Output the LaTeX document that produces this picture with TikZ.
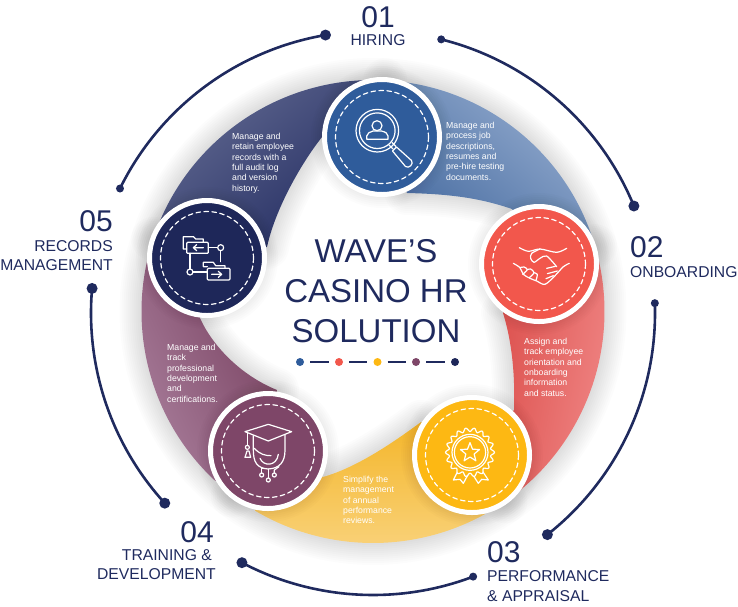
\documentclass[tikz,border=0pt]{standalone}
\usepackage{fontspec}
\setmainfont{Liberation Sans}
\definecolor{navy}{HTML}{1F2A5E}
\definecolor{cblue}{HTML}{2F5C9B}
\definecolor{cred}{HTML}{F2574C}
\definecolor{cgold}{HTML}{FDB813}
\definecolor{cpurple}{HTML}{7E4668}
\definecolor{cnavy}{HTML}{1E2759}
\definecolor{a1}{HTML}{A3B8D8}\definecolor{am}{HTML}{7C98C2}\definecolor{a2}{HTML}{456A9F}
\definecolor{b1}{HTML}{F89C9C}\definecolor{bm}{HTML}{F07F7F}\definecolor{b2}{HTML}{D53D39}
\definecolor{c1}{HTML}{FCE0A2}\definecolor{cm}{HTML}{F9CB5E}\definecolor{c2}{HTML}{F2AE14}
\definecolor{d1}{HTML}{B790AD}\definecolor{dm}{HTML}{A07593}\definecolor{d2}{HTML}{763E5D}
\definecolor{e1}{HTML}{666E95}\definecolor{em}{HTML}{464E7E}\definecolor{e2}{HTML}{1E275D}
\tikzset{
  disc/.style={circle,draw=white,line width=5,inner sep=0,minimum size=115},
  dashring/.style={draw=white,line width=1.2,dash pattern=on 4.6 off 3.4,line cap=round},
  icon/.style={draw=white,line width=1.2,line join=round,line cap=round},
  small/.style={text=white,inner sep=0,anchor=north west,align=left,font=\fontsize{8.7}{10.3}\selectfont},
  num/.style={text=navy,inner sep=0,font=\fontsize{30}{30}\selectfont},
  lab/.style={text=navy,inner sep=0,font=\fontsize{15.7}{19}\selectfont},
  ringarc/.style={draw=navy,line width=2.6},
  bigdot/.style={circle,fill=navy,inner sep=0,minimum size=11},
  tinydot/.style={circle,fill=navy,inner sep=0,minimum size=8},
  cdot/.style={circle,inner sep=0,minimum size=8},
  bandA/.style={insert path={(C1) -- ([shift={(O)}]-87:231.5) arc[start angle=-87,end angle=-16.4,radius=231.5] -- (C2) -- (512,209) .. controls (480,198) and (450,194) .. (407,193) -- cycle}},
  bandB/.style={insert path={(C2) -- ([shift={(O)}]-16.4:231.5) arc[start angle=-16.4,end angle=55.1,radius=231.5] -- (C3) -- (514,410) .. controls (515,380) and (513,345) .. (503,313) -- cycle}},
  bandC/.style={insert path={(C3) -- ([shift={(O)}]55.1:231.5) arc[start angle=55.1,end angle=127.3,radius=231.5] -- (C4) -- (323,477) .. controls (355,468) and (390,445) .. (421,422) -- cycle}},
  bandD/.style={insert path={(C4) -- ([shift={(O)}]127.3:231.5) arc[start angle=127.3,end angle=198.3,radius=231.5] -- (C5) -- (200,318) .. controls (212,345) and (240,375) .. (277,390) -- cycle}},
  bandE/.style={insert path={(C5) -- ([shift={(O)}]198.3:231.5) arc[start angle=198.3,end angle=273,radius=231.5] -- (C1) -- (322,137) .. controls (300,165) and (275,210) .. (267,247) -- cycle}},
}
\begin{document}
\begin{tikzpicture}[x=1pt,y=-1pt]
\useasboundingbox (0,0) rectangle (738,606);
\coordinate (O) at (373,311.5);
\coordinate (R) at (373,313);
\coordinate (C1) at (382,137);
\coordinate (C2) at (539,264);
\coordinate (C3) at (472,455);
\coordinate (C4) at (268,451);
\coordinate (C5) at (207,258);
% soft shadows of the bands
\foreach \w in {4,8,...,44}{
  \draw[black,opacity=.012,line width=\w,line join=round,bandA];
  \draw[black,opacity=.012,line width=\w,line join=round,bandB];
  \draw[black,opacity=.012,line width=\w,line join=round,bandC];
  \draw[black,opacity=.012,line width=\w,line join=round,bandD];
  \draw[black,opacity=.012,line width=\w,line join=round,bandE];
}
% bands: clipped square shadings keep the gradient direction true
\begin{scope}\clip[bandA];
  \shade[left color=a1,middle color=am,right color=a2,shading angle=-40] (385,40) rectangle (605,260);
\end{scope}
\begin{scope}\clip[bandB];
  \shade[left color=b1,middle color=bm,right color=b2,shading angle=-100] (440,260) rectangle (670,490);
\end{scope}
\begin{scope}\clip[bandC];
  \shade[left color=c1,middle color=cm,right color=c2,shading angle=180] (255,385) rectangle (485,615);
\end{scope}
\begin{scope}\clip[bandD];
  \shade[left color=d1,middle color=dm,right color=d2,shading angle=115] (65,250) rectangle (295,480);
\end{scope}
\begin{scope}\clip[bandE];
  \shade[left color=e1,middle color=em,right color=e2,shading angle=40] (150,50) rectangle (380,280);
\end{scope}
% circle shadows
\foreach \p in {C1,C2,C3,C4,C5}{
  \foreach \r in {61,63,...,71}{
    \fill[black,opacity=.012] (\p) circle[radius=\r];
  }
}
% discs
\node[disc,fill=cblue] (hiringdisc) at (C1) {};
\node[disc,fill=cred] (onboarddisc) at (C2) {};
\node[disc,fill=cgold] (perfdisc) at (C3) {};
\node[disc,fill=cpurple] (traindisc) at (C4) {};
\node[disc,fill=cnavy] (recorddisc) at (C5) {};
\foreach \p in {C1,C2,C3,C4,C5}{
  \draw[dashring] (\p) circle[radius=46.5];
}
% outer arcs
\begin{scope}[shift={(R)}]
  \draw[ringarc] (-76:282) arc[start angle=-76,end angle=-22.3,radius=282];
  \draw[ringarc] (-2:282) arc[start angle=-2,end angle=51.8,radius=282];
  \draw[ringarc] (69.2:282) arc[start angle=69.2,end angle=117.7,radius=282];
  \draw[ringarc] (137.6:282) arc[start angle=137.6,end angle=185,radius=282];
  \draw[ringarc] (206.2:282) arc[start angle=206.2,end angle=260.3,radius=282];
  \node[tinydot] (e1a) at (-76:282) {};
  \node[bigdot] (e1b) at (-22.3:282) {};
  \node[tinydot] (e2a) at (-2:282) {};
  \node[bigdot] (e2b) at (51.8:282) {};
  \node[tinydot] (e3a) at (69.2:282) {};
  \node[bigdot] (e3b) at (117.7:282) {};
  \node[bigdot] (e4a) at (137.6:282) {};
  \node[bigdot] (e4b) at (185:282) {};
  \node[tinydot] (e5a) at (206.2:282) {};
  \node[bigdot] (e5b) at (260.3:282) {};
\end{scope}
% centre title
\node[text=navy,align=center,inner sep=0,font=\fontsize{33}{40}\selectfont] (title) at (376,291) {WAVE’S\\CASINO HR\\SOLUTION};
\node[cdot,fill=cblue] (d1) at (300,362) {};
\node[cdot,fill=cred] (d2) at (339,362) {};
\node[cdot,fill=cgold] (d3) at (377.5,362) {};
\node[cdot,fill=cpurple] (d4) at (416,362) {};
\node[cdot,fill=cnavy] (d5) at (455,362) {};
\foreach \a/\b in {d1/d2,d2/d3,d3/d4,d4/d5}{
  \draw[navy,line width=1.4,shorten <=6,shorten >=6] (\a) -- (\b);
}
% band text
\node[small] (t1) at (446,122) {Manage and\\process job\\descriptions,\\resumes and\\pre-hire testing\\documents.};
\node[small] (t2) at (524,338) {Assign and\\track employee\\orientation and\\onboarding\\information\\and status.};
\node[small] (t3) at (343,476) {Simplify the\\management\\of annual\\performance\\reviews.};
\node[small] (t4) at (167,344) {Manage and\\track\\professional\\development\\and\\certifications.};
\node[small] (t5) at (232,133) {Manage and\\retain employee\\records with a\\full audit log\\and version\\history.};
% outer labels
\node[num,anchor=base] (n1) at (378,27) {01};
\node[lab,anchor=base] (l1) at (378,45) {HIRING};
\node[num,anchor=base west] (n2) at (630,257) {02};
\node[lab,anchor=base west] (l2) at (630,277) {ONBOARDING};
\node[num,anchor=base west] (n3) at (487,562) {03};
\node[lab,anchor=base west] (l3a) at (487,581) {PERFORMANCE};
\node[lab,anchor=base west] (l3b) at (487,601) {\& APPRAISAL};
\node[num,anchor=base east] (n4) at (214,542) {04};
\node[lab,anchor=base east] (l4a) at (212,560) {TRAINING \&};
\node[lab,anchor=base east] (l4b) at (216,579) {DEVELOPMENT};
\node[num,anchor=base east] (n5) at (113,231) {05};
\node[lab,anchor=base east] (l5a) at (113,251.7) {RECORDS};
\node[lab,anchor=base east] (l5b) at (113,270.7) {MANAGEMENT};
% icon: magnifier
\begin{scope}[icon]
  \draw (377.3,130.7) circle[radius=21.3];
  \draw (377.3,130.7) circle[radius=17.8];
  \draw (377,125.7) circle[radius=5];
  \draw (366.7,139.3) -- (366.7,136) .. controls (367,133) and (370,132) .. (373,131) -- (381.5,131) .. controls (385,132) and (388,133) .. (388,136) -- (388,139.3) -- cycle;
  \draw (389,145) -- (393,149);
  \draw (392,142.5) -- (396,146.5);
  \draw (392.5,151) -- (396.5,147) -- (411.5,160.5) .. controls (414,164) and (409,169) .. (405.5,166.5) -- cycle;
\end{scope}
% icon: handshake
\begin{scope}[icon,shift={(500,225)},x=.3333pt,y=-.3333pt]
  \draw plot[smooth] coordinates {(58,68) (85,79) (120,72) (170,82) (200,70)};
  \draw plot[smooth] coordinates {(120,72) (95,85) (92,100) (102,112) (120,100) (140,93) (170,125)};
  \draw plot[smooth] coordinates {(40,115) (60,128) (70,148) (90,160) (110,168) (135,178) (165,152) (190,125) (208,115)};
  \draw plot[smooth] coordinates {(60,128) (72,126) (82,134) (68,148)};
  \draw plot[smooth] coordinates {(82,134) (92,132) (102,143) (88,158)};
  \draw plot[smooth] coordinates {(102,143) (112,148) (108,166)};
  \draw (140,130) -- (166,124);
  \draw (142,146) -- (172,138);
  \draw (138,161) -- (160,152);
\end{scope}
% icon: folders
\begin{scope}[icon,shift={(175,225)},x=.3333pt,y=-.3333pt]
  \draw (35,72) -- (25,72) -- (25,35) -- (55,35) -- (62,42) -- (85,42) -- (85,52);
  \draw[rounded corners=1] (35,85) -- (35,52) -- (100,52) -- (100,85) -- cycle;
  \draw (85,68) -- (55,68) (65,59) -- (55,68) -- (65,77);
  \draw (100,68) -- (128,68);
  \draw (137,68) circle[radius=9];
  \draw (137,77) -- (137,110);
  \draw (45,85) -- (45,132);
  \draw (45,141) circle[radius=9];
  \draw (54,141) -- (97,141);
  \draw (97,125) -- (85,125) -- (85,112) -- (115,112) -- (122,122) -- (150,122) -- (150,130);
  \draw[rounded corners=1] (97,165) -- (97,130) -- (165,130) -- (165,165) -- cycle;
  \draw (110,148) -- (140,148) (130,139) -- (140,148) -- (130,157);
\end{scope}
% icon: graduation cap
\begin{scope}[icon,shift={(235,415)},x=.3333pt,y=-.3333pt]
  \draw (30,50) -- (100,28) -- (170,50) -- (100,78) -- cycle;
  \draw (37,53) -- (37,91);
  \draw (37,97) circle[radius=6];
  \draw (30,127) -- (36,108) -- (42,108) -- (47,127) -- cycle;
  \draw (55,62) -- (55,105) .. controls (55,140) and (65,160) .. (100,162) .. controls (135,160) and (150,140) .. (150,105) -- (150,60);
  \draw (58,100) .. controls (75,118) and (90,122) .. (108,122);
  \draw (75,130) .. controls (85,155) and (125,155) .. (130,118);
  \draw (100,162) -- (100,188);
  \draw (100,195) circle[radius=6];
  \draw (90,160) -- (80,160) -- (80,174);
  \draw (80,180) circle[radius=6];
  \draw (132,155) -- (118,165) -- (118,174);
  \draw (118,180) circle[radius=6];
\end{scope}
% icon: rosette
\begin{scope}[icon,shift={(435,420)},x=.3333pt,y=-.3333pt]
  \draw (70,150) -- (55,180) -- (75,178) -- (85,190) -- (100,162);
  \draw (112,162) -- (130,190) -- (140,178) -- (160,180) -- (140,150);
  \draw[shift={(105,97)},fill=cgold] plot[samples=145,domain=0:360] ({(68+5.5*cos(18*\x))*cos(\x)},{(68+5.5*cos(18*\x))*sin(\x)}) -- cycle;
  \draw (105,97) circle[radius=54];
  \draw (105,97) circle[radius=47];
  \draw[shift={(105,98)}] (0,-30) -- (7.6,-10.5) -- (28.5,-9.3) -- (12.4,4) -- (17.6,24.3) -- (0,13) -- (-17.6,24.3) -- (-12.4,4) -- (-28.5,-9.3) -- (-7.6,-10.5) -- cycle;
\end{scope}
\end{tikzpicture}
\end{document}
